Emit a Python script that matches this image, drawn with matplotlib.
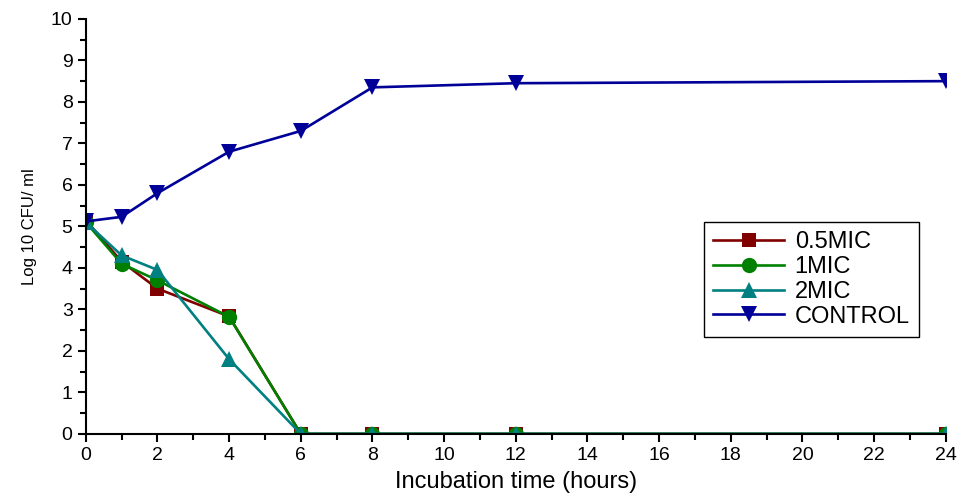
import matplotlib
matplotlib.use("Agg")
import matplotlib.pyplot as plt
from matplotlib.ticker import MultipleLocator

plt.rcParams['font.family'] = ['Liberation Sans', 'DejaVu Sans']

time_h = [0, 1, 2, 4, 6, 8, 12, 24]
mic_05 = [5.15, 4.15, 3.5, 2.83, 0, 0, 0, 0]
mic_1 = [5.1, 4.1, 3.7, 2.82, 0, 0, 0, 0]
mic_2 = [5.1, 4.3, 3.95, 1.8, 0, 0, 0, 0]
control = [5.12, 5.23, 5.8, 6.8, 7.3, 8.35, 8.45, 8.5]

series_names = ["0.5MIC", "1MIC", "2MIC", "CONTROL"]
series_vals = [mic_05, mic_1, mic_2, control]
colors = ["#800000", "#008000", "#008080", "#000099"]
markers = ["s", "o", "^", "v"]
msizes = [10, 11, 12, 12]

fig = plt.figure(figsize=(9.75, 4.97), dpi=100)
ax = fig.add_axes([0.088, 0.127, 0.882, 0.835])

for name, vals, c, m, ms in zip(series_names, series_vals, colors, markers, msizes):
    ax.plot(time_h, vals, color=c, marker=m, markersize=ms, linewidth=1.9,
            label=name, markeredgewidth=0)

ax.set_xlim(0, 24)
ax.set_ylim(0, 10)
ax.xaxis.set_major_locator(MultipleLocator(2))
ax.xaxis.set_minor_locator(MultipleLocator(1))
ax.yaxis.set_major_locator(MultipleLocator(1))
ax.yaxis.set_minor_locator(MultipleLocator(0.5))
for s in ['top', 'right']:
    ax.spines[s].set_visible(False)
for s in ['left', 'bottom']:
    ax.spines[s].set_linewidth(1.5)
ax.tick_params(which='major', direction='out', length=6, width=1.5, labelsize=14)
ax.tick_params(which='minor', direction='out', length=4, width=1.5)

ax.set_xlabel("Incubation time (hours)", fontsize=17, labelpad=5)
ax.set_ylabel("Log 10 CFU/ ml", fontsize=12, labelpad=10)

leg = ax.legend(loc='upper left', bbox_to_anchor=(0.7186, 0.511), fontsize=17,
                frameon=True, fancybox=False, edgecolor='black', framealpha=1,
                handlelength=3.0, labelspacing=0.12, borderpad=0.4,
                handletextpad=0.45, borderaxespad=0, markerscale=1.0)
leg.get_frame().set_linewidth(1.0)

fig.savefig("out.png", dpi=100)
